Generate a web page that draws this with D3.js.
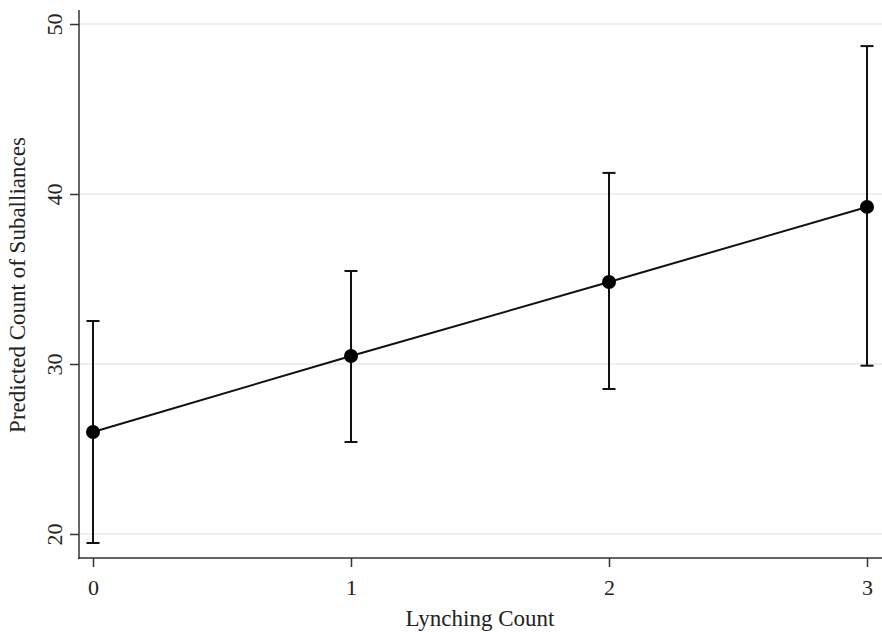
<!DOCTYPE html>
<html>
<head>
<meta charset="utf-8">
<script src="https://cdn.jsdelivr.net/npm/d3@7"></script>
<style>
  html, body { margin: 0; padding: 0; background: #fff; }
  svg { display: block; }
</style>
</head>
<body>
<svg id="chart" width="882" height="632"></svg>
<script>
const categories = [0, 1, 2, 3];
const predicted = [26.0, 30.47, 34.82, 39.24];
const lowerCI = [19.47, 25.41, 28.53, 29.9];
const upperCI = [32.53, 35.47, 41.24, 48.7];
const yTicks = [20, 30, 40, 50];
const xTicks = [0, 1, 2, 3];

const svg = d3.select("#chart");
const x = d3.scaleLinear().domain([0, 3]).range([93, 867]);
const y = d3.scaleLinear().domain([20, 50]).range([534, 24]);
const font = "'Liberation Serif', 'Times New Roman', serif";

// gridlines
svg.append("g").selectAll("line").data(yTicks).join("line")
  .attr("x1", 80).attr("x2", 882)
  .attr("y1", d => y(d)).attr("y2", d => y(d))
  .attr("stroke", "#e3edf1").attr("stroke-width", 1.5);

// y axis
const yAxis = svg.append("g").attr("transform", "translate(79,0)")
  .call(d3.axisLeft(y).tickValues(yTicks).tickSize(9).tickSizeOuter(0).tickPadding(0));
yAxis.select(".domain").remove();
yAxis.selectAll(".tick line").attr("stroke", "#333").attr("stroke-width", 1.5);
yAxis.selectAll(".tick text").remove();
yAxis.selectAll(".tick").append("text")
  .attr("transform", "translate(-17,0) rotate(-90)")
  .attr("text-anchor", "middle")
  .attr("fill", "#222")
  .style("font-family", font).style("font-size", "22px")
  .text(d => d);
svg.append("line").attr("x1", 79).attr("x2", 79).attr("y1", 10).attr("y2", 559)
  .attr("stroke", "#333").attr("stroke-width", 1.5);

// x axis
const xAxis = svg.append("g").attr("transform", "translate(0,558)")
  .call(d3.axisBottom(x).tickValues(xTicks).tickSize(9).tickSizeOuter(0).tickPadding(12).tickFormat(d3.format("d")));
xAxis.select(".domain").remove();
xAxis.selectAll(".tick line").attr("stroke", "#333").attr("stroke-width", 1.5);
xAxis.selectAll(".tick text").attr("fill", "#222")
  .style("font-family", font).style("font-size", "22px");
svg.append("line").attr("x1", 78).attr("x2", 882).attr("y1", 558).attr("y2", 558)
  .attr("stroke", "#333").attr("stroke-width", 1.5);

// titles
svg.append("text").attr("x", 480).attr("y", 626).attr("text-anchor", "middle")
  .attr("fill", "#222").style("font-family", font).style("font-size", "23px")
  .text("Lynching Count");
svg.append("text").attr("transform", "translate(25,285) rotate(-90)").attr("text-anchor", "middle")
  .attr("fill", "#222").style("font-family", font).style("font-size", "23px")
  .text("Predicted Count of Suballiances");

// error bars
const eb = svg.append("g").attr("stroke", "#111").attr("stroke-width", 2);
eb.selectAll("line.v").data(categories).join("line").attr("class", "v")
  .attr("x1", d => x(d)).attr("x2", d => x(d))
  .attr("y1", (d, i) => y(lowerCI[i])).attr("y2", (d, i) => y(upperCI[i]));
eb.selectAll("line.top").data(categories).join("line").attr("class", "top")
  .attr("x1", d => x(d) - 6.5).attr("x2", d => x(d) + 6.5)
  .attr("y1", (d, i) => y(upperCI[i])).attr("y2", (d, i) => y(upperCI[i]));
eb.selectAll("line.bot").data(categories).join("line").attr("class", "bot")
  .attr("x1", d => x(d) - 6.5).attr("x2", d => x(d) + 6.5)
  .attr("y1", (d, i) => y(lowerCI[i])).attr("y2", (d, i) => y(lowerCI[i]));

// line
svg.append("path")
  .datum(categories.map((c, i) => [c, predicted[i]]))
  .attr("fill", "none").attr("stroke", "#111").attr("stroke-width", 2)
  .attr("d", d3.line().x(d => x(d[0])).y(d => y(d[1])));

// points
svg.append("g").selectAll("circle").data(categories).join("circle")
  .attr("cx", d => x(d)).attr("cy", (d, i) => y(predicted[i]))
  .attr("r", 7).attr("fill", "#000");
</script>
</body>
</html>
